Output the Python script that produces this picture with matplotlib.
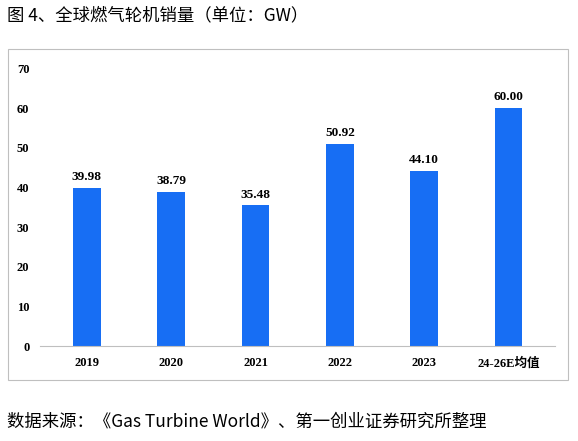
import matplotlib.pyplot as plt
from matplotlib.patches import Rectangle

categories = ["2019", "2020", "2021", "2022", "2023", "24-26E均值"]
sales_gw = [39.98, 38.79, 35.48, 50.92, 44.10, 60.00]
y_ticks = [0, 10, 20, 30, 40, 50, 60, 70]

plt.rcParams['font.family'] = ['Liberation Serif', 'Noto Sans CJK SC', 'DejaVu Sans']

fig = plt.figure(figsize=(5.78, 4.41), dpi=100)

# title and footer
fig.text(0.012, 0.965, "图 4、全球燃气轮机销量（单位：GW）", fontsize=12.5,
         family=['Noto Sans CJK SC', 'DejaVu Sans'], va="center")
fig.text(0.012, 0.045, "数据来源：《Gas Turbine World》、第一创业证券研究所整理", fontsize=12.5,
         family=['Noto Sans CJK SC', 'DejaVu Sans'], va="center")

# chart frame
fig.patches.append(Rectangle((0.014, 0.138), 0.969, 0.75, transform=fig.transFigure,
                             fill=False, edgecolor="#bfbfbf", linewidth=0.8))

ax = fig.add_axes([0.07, 0.215, 0.89, 0.63])
x = range(len(categories))
bars = ax.bar(x, sales_gw, width=0.33, color="#176ef4")
for xi, v in zip(x, sales_gw):
    ax.text(xi, v + 1.2, f"{v:.2f}", ha="center", va="bottom", fontsize=9.5, fontweight="bold")

ax.set_ylim(0, 70)
ax.set_yticks(y_ticks)
ax.set_xticks(list(x))
ax.set_xticklabels(categories, fontweight="bold", fontsize=9)
ax.set_xlim(-0.55, len(categories) - 0.45)
for lbl in ax.get_yticklabels():
    lbl.set_fontweight("bold")
    lbl.set_fontsize(9)
ax.tick_params(length=0, pad=8)
for s in ["top", "right", "left"]:
    ax.spines[s].set_visible(False)
ax.spines["bottom"].set_color("#bfbfbf")

fig.savefig("out.png", dpi=100)
